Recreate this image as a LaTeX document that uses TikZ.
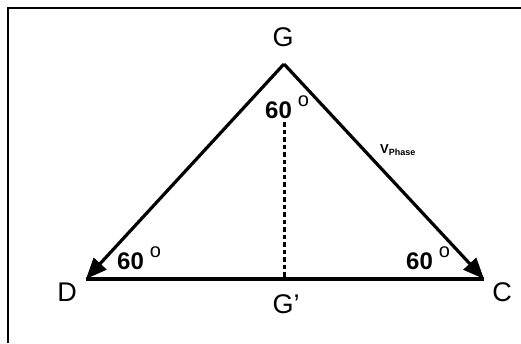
\documentclass[tikz,border=0pt]{standalone}
\usepackage{fontspec}
\setmainfont{Liberation Sans}
\usetikzlibrary{arrows.meta}
\usetikzlibrary{positioning}

\newcommand{\degmark}{\hspace{6pt}\raisebox{12pt}{\fontsize{20}{20}\selectfont\mdseries o}}

\begin{document}
\begin{tikzpicture}[x=1pt,y=-1pt,
  every node/.style={inner sep=0pt,font=\fontsize{27}{27}\selectfont},
  angle/.style={anchor=base west,font=\fontsize{24}{24}\selectfont\bfseries},
  side/.style={line width=3.2pt},
  phasor/.style={side,-{Triangle[length=21pt,width=17pt]}},
  level line/.style={line width=3pt,dash pattern=on 4.5pt off 3pt}]
\useasboundingbox (0,0) rectangle (521,343);
\draw[line width=2.2pt] (8,343) -- (8,8) -- (521,8);
\coordinate (G) at (284,64);
\coordinate (D) at (86,279);
\coordinate (C) at (484,279);
\coordinate (Gp) at (284,279);
\coordinate (Gtop) at (284,122);
\node (labelG) at (283,37) {G};
\node (labelD) at (67,292) {D};
\node (labelC) at (502,292) {C};
\node (labelGp) at (286,304) {G'};
\node[angle] (angleG) at (265,118) {60\degmark};
\node[angle] (angleD) at (117,269) {60\degmark};
\node[angle] (angleC) at (406,269) {60\degmark};
\node[font=\fontsize{13}{13}\selectfont\bfseries] (vphase) at (398,150)
  {V\textsubscript{\fontsize{9}{9}\selectfont Phase}};
\draw[phasor] (G) -- (D);
\draw[phasor] (G) -- (C);
\draw[side] (D) -- (C);
\draw[level line] (Gtop) -- (Gp);
\end{tikzpicture}
\end{document}
